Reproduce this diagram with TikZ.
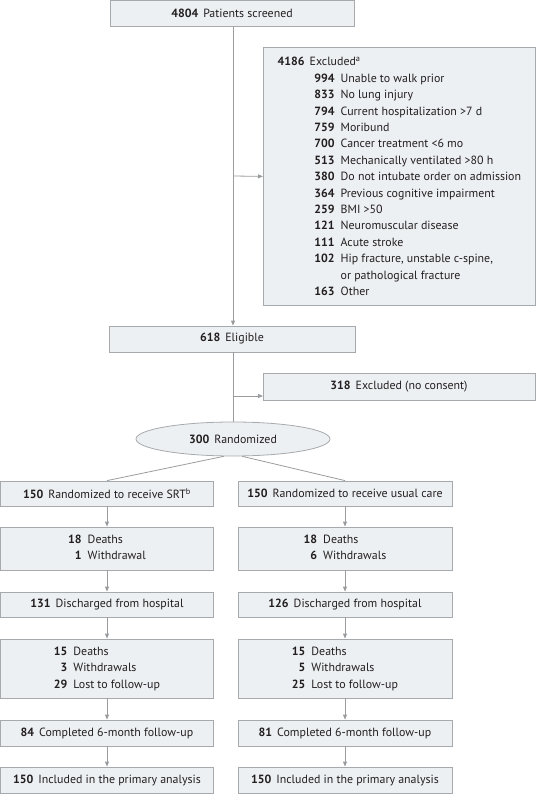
\documentclass[tikz,border=0pt]{standalone}
\usepackage{fontspec}
\setmainfont{PT Sans}
\usetikzlibrary{arrows.meta,shapes.geometric}
\definecolor{boxfill}{HTML}{EDF0F3}
\definecolor{boxline}{HTML}{A7AAAD}
\definecolor{conn}{HTML}{9A9C9E}
\definecolor{txt}{HTML}{231F20}
\newcommand\exrow[2]{\makebox[57pt][r]{\textbf{#1}}\hspace{6pt}#2}
\begin{document}
\begin{tikzpicture}[x=1pt,y=-1pt,
  every node/.style={font=\fontsize{11.9pt}{16.4pt}\selectfont, text=txt},
  fbox/.style={draw=boxline, fill=boxfill, line width=0.8pt, inner sep=0pt, rectangle},
  conn/.style={draw=conn, line width=0.8pt},
  arr/.style={conn, -{Triangle[length=5pt,width=4pt]}}]
\useasboundingbox (0,0) rectangle (536,794);

\node[fbox, minimum width=244, minimum height=25.5] (scr) at (232,13.5) {\textbf{4804}\hspace{5pt}Patients screened};

\node[fbox, anchor=north west, minimum width=272, minimum height=258, align=left, inner xsep=10pt] (exc) at (263,47) {%
\textbf{4186}\hspace{5pt}Excluded\textsuperscript{a}\\
\exrow{994}{Unable to walk prior}\\
\exrow{833}{No lung injury}\\
\exrow{794}{Current hospitalization >7 d}\\
\exrow{759}{Moribund}\\
\exrow{700}{Cancer treatment <6 mo}\\
\exrow{513}{Mechanically ventilated >80 h}\\
\exrow{380}{Do not intubate order on admission}\\
\exrow{364}{Previous cognitive impairment}\\
\exrow{259}{BMI >50}\\
\exrow{121}{Neuromuscular disease}\\
\exrow{111}{Acute stroke}\\
\exrow{102}{Hip fracture, unstable c-spine,}\\
\exrow{}{or pathological fracture}\\
\exrow{163}{Other}};

\node[fbox, minimum width=246, minimum height=26] (eli) at (232,339) {\textbf{618}\hspace{5pt}Eligible};
\node[fbox, minimum width=272, minimum height=27] (exc2) at (399,386.5) {\textbf{318}\hspace{5pt}Excluded (no consent)};
\node[ellipse, draw=boxline, fill=boxfill, line width=0.8pt, minimum width=194, minimum height=34, inner sep=0pt] (rand) at (233,439) {\textbf{300}\hspace{5pt}Randomized};

% left column
\node[fbox, minimum width=213, minimum height=25] (l1) at (107,493.5) {\textbf{150}\hspace{5pt}Randomized to receive SRT\textsuperscript{b}};
\node[fbox, minimum width=213, minimum height=43] (l2) at (107,548.5) {\begin{tabular}{@{}r@{\hspace{6pt}}l@{}}\textbf{18}&Deaths\\\textbf{1}&Withdrawal\end{tabular}};
\node[fbox, minimum width=213, minimum height=25] (l3) at (107,604.5) {\textbf{131}\hspace{5pt}Discharged from hospital};
\node[fbox, minimum width=213, minimum height=59] (l4) at (107,668.5) {\begin{tabular}{@{}r@{\hspace{6pt}}l@{}}\textbf{15}&Deaths\\\textbf{3}&Withdrawals\\\textbf{29}&Lost to follow-up\end{tabular}};
\node[fbox, minimum width=213, minimum height=26] (l5) at (107,733) {\textbf{84}\hspace{5pt}Completed 6-month follow-up};
\node[fbox, minimum width=213, minimum height=26] (l6) at (107,780) {\textbf{150}\hspace{5pt}Included in the primary analysis};

% right column
\node[fbox, minimum width=214, minimum height=25] (r1) at (345,493.5) {\textbf{150}\hspace{5pt}Randomized to receive usual care};
\node[fbox, minimum width=214, minimum height=43] (r2) at (345,548.5) {\begin{tabular}{@{}r@{\hspace{6pt}}l@{}}\textbf{18}&Deaths\\\textbf{6}&Withdrawals\end{tabular}};
\node[fbox, minimum width=214, minimum height=25] (r3) at (345,604.5) {\textbf{126}\hspace{5pt}Discharged from hospital};
\node[fbox, minimum width=214, minimum height=59] (r4) at (345,668.5) {\begin{tabular}{@{}r@{\hspace{6pt}}l@{}}\textbf{15}&Deaths\\\textbf{5}&Withdrawals\\\textbf{25}&Lost to follow-up\end{tabular}};
\node[fbox, minimum width=214, minimum height=26] (r5) at (345,733) {\textbf{81}\hspace{5pt}Completed 6-month follow-up};
\node[fbox, minimum width=214, minimum height=26] (r6) at (345,780) {\textbf{150}\hspace{5pt}Included in the primary analysis};

% connectors
\coordinate (s1) at (233,176);
\coordinate (s2) at (233,396);
\coordinate (e2) at (263,396);
\draw[arr] (scr.south -| s1) -- (eli.north -| s1);
\draw[arr] (s1) -- (exc.west);
\draw[conn] (eli.south -| s1) -- (rand.north);
\draw[arr] (s2) -- (e2);
\draw[conn] (rand.-118) -- (l1.north);
\draw[conn] (rand.-62) -- (r1.north);
\foreach \a/\b in {l1/l2,l2/l3,l3/l4,l4/l5,l5/l6,r1/r2,r2/r3,r3/r4,r4/r5,r5/r6}
  \draw[arr] (\a.south) -- (\b.north);
\end{tikzpicture}
\end{document}
